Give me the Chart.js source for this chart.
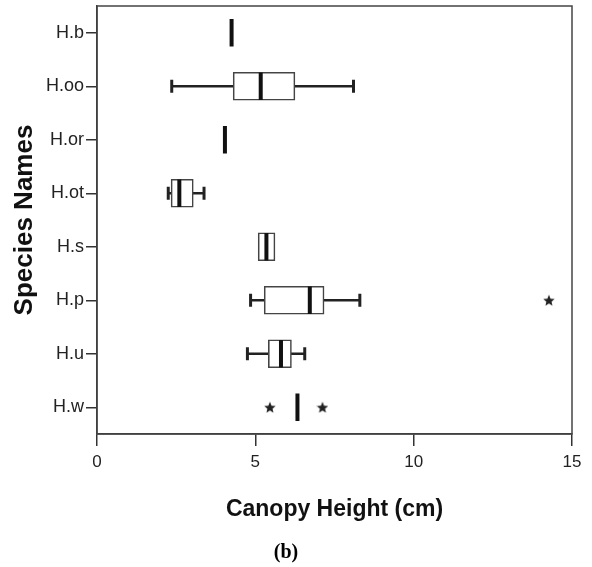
<!DOCTYPE html>
<html><head><meta charset="utf-8">
<script src="https://cdn.jsdelivr.net/npm/chart.js@4/dist/chart.umd.min.js"></script>
<style>html,body{margin:0;padding:0;background:#fff}canvas{display:block}</style>
</head><body>
<canvas id="c" width="592" height="567"></canvas>
<script>
// ---- data ----
const categories = ['H.b', 'H.oo', 'H.or', 'H.ot', 'H.s', 'H.p', 'H.u', 'H.w'];
const whiskerMin = [null, 2.36, null, 2.25, null, 4.85, 4.75, null];
const q1         = [null, 4.30, null, 2.34, 5.09, 5.28, 5.41, null];
const median     = [4.25, 5.17, 4.04, 2.60, 5.35, 6.72, 5.81, 6.33];
const q3         = [null, 6.25, null, 3.04, 5.62, 7.17, 6.14, null];
const whiskerMax = [null, 8.10, null, 3.38, null, 8.30, 6.56, null];
const outlierCat = ['H.p', 'H.w', 'H.w'];
const outlierVal = [14.27, 5.46, 7.12];
const xTicks = [0, 5, 10, 15];

// ---- styling helpers ----
const INK = '#333';
function makeStar(size, color) {
  const c = document.createElement('canvas');
  c.width = size; c.height = size;
  const g = c.getContext('2d');
  const cx = size / 2, cy = size / 2 + 0.6, R = size / 2, r = R * 0.45;
  g.beginPath();
  for (let i = 0; i < 10; i++) {
    const a = -Math.PI / 2 + i * Math.PI / 5;
    const rad = i % 2 ? r : R;
    g.lineTo(cx + rad * Math.cos(a), cy + rad * Math.sin(a));
  }
  g.closePath(); g.fillStyle = color; g.fill();
  return c;
}
const starImg = makeStar(12, '#222');

const whiskerRanges = categories.map((c, i) => (whiskerMin[i] != null || whiskerMax[i] != null)
  ? [whiskerMin[i] != null ? whiskerMin[i] : q1[i], whiskerMax[i] != null ? whiskerMax[i] : q3[i]] : null);
const boxRanges = categories.map((c, i) => q1[i] != null ? [q1[i], q3[i]] : null);
const capPoints = [];
categories.forEach((c, i) => {
  if (whiskerMin[i] != null) capPoints.push({x: whiskerMin[i], y: c});
  if (whiskerMax[i] != null) capPoints.push({x: whiskerMax[i], y: c});
});
const medianPoints = categories.map((c, i) => ({x: median[i], y: c}));
const outlierPoints = outlierCat.map((c, i) => ({x: outlierVal[i], y: c}));

const framePlugin = {
  id: 'frame',
  beforeDatasetsDraw(chart) {
    const {ctx, chartArea: a} = chart;
    ctx.save();
    ctx.strokeStyle = '#444';
    ctx.lineWidth = 1.5;
    ctx.strokeRect(a.left, a.top, a.right - a.left, a.bottom - a.top);
    ctx.restore();
  }
};

Chart.defaults.font.family = "'Liberation Sans', Arial, sans-serif";
Chart.defaults.color = '#222';

new Chart(document.getElementById('c'), {
  type: 'bar',
  data: {
    labels: categories,
    datasets: [
      { type: 'bar', data: whiskerRanges, backgroundColor: '#222', borderWidth: 0,
        barThickness: 2, grouped: false, order: 3 },
      { type: 'bar', data: boxRanges, backgroundColor: '#fff', borderColor: '#444',
        borderWidth: 1.6, borderSkipped: false, barThickness: 28, grouped: false, order: 2 },
      { type: 'line', data: capPoints, showLine: false, pointStyle: 'line', rotation: 90,
        pointRadius: 6.5, pointBorderWidth: 3, pointBorderColor: '#222', order: 1 },
      { type: 'line', data: medianPoints, showLine: false, pointStyle: 'line', rotation: 90,
        pointRadius: 13.8, pointBorderWidth: 4, pointBorderColor: '#111', order: 0 },
      { type: 'line', data: outlierPoints, showLine: false, pointStyle: starImg,
        pointRadius: 6, order: 0 }
    ]
  },
  options: {
    indexAxis: 'y',
    responsive: false,
    animation: false,
    events: [],
    layout: { autoPadding: false, padding: { top: 6, right: 20, left: 0, bottom: 0 } },
    plugins: {
      legend: { display: false },
      tooltip: { enabled: false },
      title: { display: false },
      subtitle: {
        display: true, position: 'bottom', text: '(b)', color: '#000',
        font: { family: "'Liberation Serif', 'Times New Roman', serif", size: 20, weight: 'bold' },
        padding: { top: 0, bottom: 2 }
      }
    },
    scales: {
      x: {
        type: 'linear', min: 0, max: 15,
        afterBuildTicks(s) { s.ticks = xTicks.map(v => ({value: v})); },
        afterFit(s) { s.height = 107; s.paddingLeft = 0; },
        grid: { drawOnChartArea: false, drawTicks: true, tickLength: 12, color: INK, lineWidth: 1.5 },
        border: { display: true, color: INK, width: 1.5 },
        ticks: { padding: 6, color: '#222', font: { size: 17 } },
        title: { display: true, text: 'Canopy Height (cm)', color: '#111',
          font: { size: 23, weight: 'bold' }, padding: { top: 0, bottom: 18 } }
      },
      y: {
        type: 'category', offset: true,
        afterFit(s) { s.width = 97; s.paddingTop = 0; s.paddingBottom = 0; },
        grid: { offset: false, drawOnChartArea: false, drawTicks: true, tickLength: 11, color: INK, lineWidth: 1.5 },
        border: { display: true, color: INK, width: 1.5 },
        ticks: { padding: 2, color: '#222', font: { size: 18 } },
        title: { display: true, text: 'Species Names', color: '#111',
          font: { size: 26, weight: 'bold' }, padding: { top: 9, bottom: 0 } }
      }
    }
  },
  plugins: [framePlugin]
});
</script>
</body></html>
